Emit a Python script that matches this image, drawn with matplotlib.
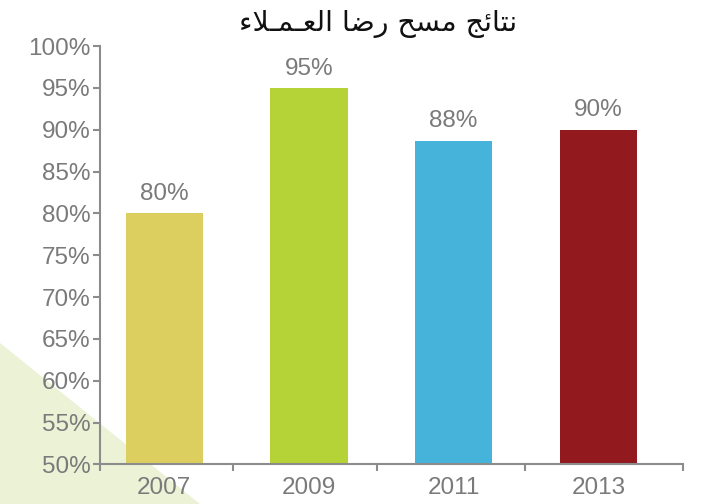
import matplotlib
matplotlib.use("Agg")
import matplotlib.pyplot as plt
from matplotlib.patches import Polygon

# ---- data ----
years = ["2007", "2009", "2011", "2013"]
values = [80, 95, 88.7, 90]
value_labels = ["80%", "95%", "88%", "90%"]
colors = ["#dccf60", "#b5d236", "#45b3da", "#921a1f"]
yticks = [50, 55, 60, 65, 70, 75, 80, 85, 90, 95, 100]
ytick_labels = [f"{v}%" for v in yticks]

# Arabic title, pre-shaped (presentation forms) in visual order
title_logical = ("\uFEE7\uFE98\uFE8E\uFE8B\uFE9E" + " " +
                 "\uFEE3\uFEB4\uFEA2" + " " +
                 "\uFEAD\uFEBF\uFE8E" + " " +
                 "\uFE8D\uFEDF\uFECC\u0640\uFEE4\u0640\uFEFC\uFE80")
title_visual = title_logical[::-1]

gray = "#7a7a7a"
spine_gray = "#8c8c8c"
fs = 17.5

fig = plt.figure(figsize=(7.02, 5.04), dpi=100)
fig.patch.set_facecolor("white")

# decorative background triangle (behind everything)
tri = Polygon([(0, 0.319), (0, 0), (0.285, 0)], closed=True,
              transform=fig.transFigure, facecolor="#ebf2d6",
              edgecolor="none", zorder=-10)
fig.patches.append(tri)

ax = fig.add_axes([0.1425, 0.0784, 0.9729 - 0.1425, 0.9087 - 0.0784])
ax.set_facecolor("none")
ax.set_zorder(5)

x = list(range(len(years)))
ax.bar(x, values, width=0.535, color=colors, zorder=2)

for xi, v, lab in zip(x, values, value_labels):
    ax.annotate(lab, (xi, v), xytext=(0, 6), textcoords="offset points",
                ha="center", va="bottom", fontsize=fs, color=gray,
                family="Liberation Sans")

ax.set_xlim(-0.444, 3.585)
ax.set_ylim(50, 100)

ax.set_yticks(yticks)
ax.set_yticklabels(ytick_labels, fontsize=fs, color=gray, family="Liberation Sans")

ax.set_xticks(x)
ax.set_xticklabels(years, fontsize=fs, color=gray, family="Liberation Sans")
ax.tick_params(axis="x", which="major", length=0, pad=9)
ax.set_xticks([-0.444, 0.475, 1.47, 2.49, 3.585], minor=True)
ax.tick_params(axis="x", which="minor", length=5, width=1.5, color=spine_gray, direction="out")
ax.tick_params(axis="y", which="major", length=5, width=1.5, color=spine_gray, direction="out", pad=2)

for s in ["top", "right"]:
    ax.spines[s].set_visible(False)
for s in ["left", "bottom"]:
    ax.spines[s].set_color(spine_gray)
    ax.spines[s].set_linewidth(1.5)

fig.text(0.538, 0.953, title_visual, ha="center", va="center", fontsize=20.5,
         color="#111111", family=["DejaVu Sans"])

fig.savefig("out.png", dpi=100, facecolor=fig.get_facecolor())
